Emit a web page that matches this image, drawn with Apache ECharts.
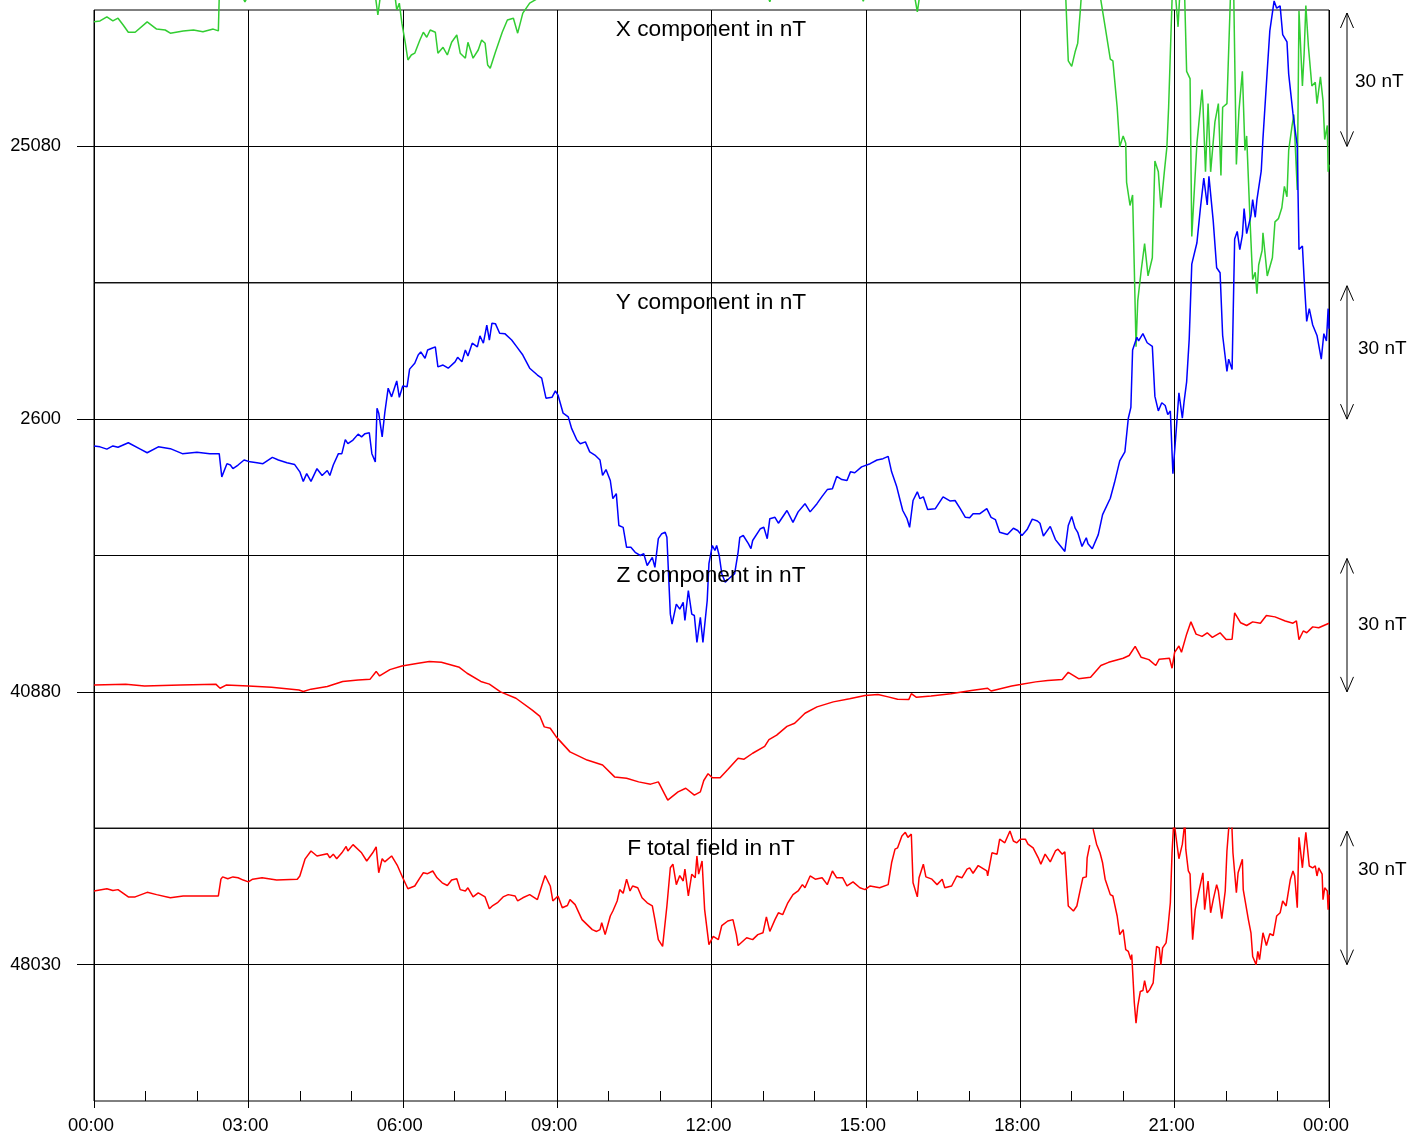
<!DOCTYPE html>
<html>
<head>
<meta charset="utf-8">
<script src="https://cdn.jsdelivr.net/npm/echarts@6/dist/echarts.min.js"></script>
<style>
html,body{margin:0;padding:0;background:#fff;}
#chart{width:1409px;height:1137px;}
</style>
</head>
<body>
<div id="chart"></div>
<script>
// ---------- data (time in minutes of the day, value in nT) ----------
const panelTitles = ['X component in nT', 'Y component in nT', 'Z component in nT', 'F total field in nT'];
const panelMids = [25080, 2600, 40880, 48030];
const halfRange = 30;
const scaleLabel = '30 nT';
const timeTickStep = 180;

const xComponent = [
[0,25107.4],[7,25107.6],[15,25108.5],[22,25107.6],[28,25108.2],[34,25106.7],[40,25105.1],[48,25105.1],
[62,25107.4],[73,25105.8],[83,25105.6],[89,25104.9],[104,25105.4],[116,25105.6],[127,25105.2],[139,25105.8],
[145,25105.4],[147,25120],[159,25117],[170,25114],[176,25111.8],[182,25114],[199,25119],[229,25123],
[264,25126],[298,25124],[316,25119],[326,25116],[331,25108.9],[336,25116],[345,25117],[351,25113],
[353,25110.0],[356,25111.5],[359,25107.1],[363,25102.7],[366,25099.0],[370,25100.1],[374,25100.5],[380,25103.4],
[384,25105.1],[388,25104.0],[392,25105.6],[398,25105.1],[401,25100.5],[407,25101.8],[412,25100.1],[417,25102.9],
[423,25104.5],[427,25100.5],[433,25099.4],[436,25102.9],[442,25099.4],[448,25101.2],[452,25103.4],[456,25102.7],
[459,25097.9],[462,25097.2],[468,25100.7],[476,25105.1],[482,25107.8],[489,25108.2],[494,25104.9],[500,25109.3],
[508,25111.5],[517,25112.5],[532,25118],[567,25124],[613,25130],[683,25128],[753,25120],[784,25114],
[788,25111.8],[793,25115],[823,25121],[870,25122],[891,25115],[897,25111.9],[902,25116],[934,25120],
[954,25116],[960,25109.6],[965,25116],[1010,25123],[1056,25127],[1103,25126],[1126,25120],[1133,25113],
[1136,25098.8],[1140,25097.6],[1144,25100.8],[1147,25102.7],[1150,25109.8],[1153,25118],[1164,25125],[1173,25113.3],
[1179,25106.3],[1185,25099.2],[1188,25098.8],[1193,25088.6],[1196,25079.9],[1200,25082.3],[1203,25080.7],[1204,25072.1],
[1208,25067.0],[1211,25069.3],[1213,25053.1],[1215,25035.9],[1217,25046.0],[1221,25052.7],[1225,25058.6],[1229,25051.5],
[1234,25055.5],[1237,25076.8],[1241,25074.4],[1244,25066.5],[1248,25074.4],[1251,25079.9],[1253,25088.6],[1257,25112.2],
[1259,25118],[1264,25106.3],[1267,25117],[1271,25118],[1274,25096.5],[1278,25094.9],[1280,25060.2],[1286,25080.7],
[1288,25084.6],[1292,25092.5],[1293,25089.4],[1296,25074.4],[1299,25089.4],[1302,25074.4],[1307,25085.4],[1311,25089.4],
[1314,25073.6],[1316,25088.6],[1321,25089.4],[1325,25112.5],[1327,25118],[1329,25112.5],[1332,25076.0],[1335,25087.8],
[1339,25096.5],[1342,25079.1],[1344,25082.3],[1348,25063.4],[1351,25050.7],[1354,25052.3],[1356,25047.6],[1358,25053.9],
[1362,25057.1],[1363,25061.0],[1368,25051.5],[1374,25055.5],[1377,25063.4],[1381,25064.1],[1385,25066.5],[1388,25071.2],
[1391,25068.9],[1393,25079.1],[1397,25084.6],[1399,25087.0],[1403,25070.4],[1405,25109.8],[1409,25093.3],[1411,25100.4],
[1413,25111.0],[1416,25102.0],[1420,25093.3],[1424,25094.1],[1426,25089.4],[1430,25095.3],[1433,25090.1],[1435,25081.5],
[1438,25084.6],[1439,25074.4],[1440,25076.0]
];

const yComponent = [
[0,2594.1],[7,2593.9],[15,2593.4],[22,2594.1],[28,2593.8],[40,2594.8],[54,2593.4],[62,2592.6],
[75,2593.9],[89,2593.5],[103,2592.4],[120,2592.7],[135,2592.4],[146,2592.4],[149,2587.3],[155,2590.2],
[159,2589.9],[162,2589.1],[168,2589.9],[175,2591.0],[182,2590.6],[190,2590.4],[197,2590.2],[208,2591.6],
[215,2591.0],[225,2590.4],[234,2590.0],[240,2588.4],[244,2586.3],[248,2588.0],[253,2586.3],[260,2589.1],
[266,2587.6],[272,2588.7],[275,2587.6],[279,2589.9],[285,2592.4],[289,2592.4],[293,2595.5],[296,2594.6],
[302,2595.4],[308,2596.7],[312,2596.1],[316,2596.8],[321,2597.0],[324,2592.4],[328,2590.6],[330,2602.4],
[332,2601.3],[336,2596.1],[339,2601.3],[343,2606.8],[347,2604.9],[353,2608.4],[356,2604.8],[360,2607.3],
[365,2607.1],[368,2611.0],[374,2612.3],[378,2614.1],[381,2614.8],[386,2613.4],[389,2615.2],[394,2615.6],
[398,2615.9],[401,2611.5],[407,2611.9],[413,2611.2],[421,2612.6],[424,2613.6],[429,2612.6],[433,2615.2],
[436,2613.9],[441,2616.7],[447,2615.9],[450,2618.3],[454,2616.7],[458,2620.7],[461,2617.4],[464,2621.1],
[468,2621.0],[473,2618.9],[479,2618.8],[487,2617.4],[493,2615.9],[500,2614.1],[508,2611.2],[517,2609.7],
[522,2609.0],[527,2604.6],[534,2604.8],[538,2606.2],[541,2605.3],[547,2601.3],[553,2600.5],[557,2597.9],
[563,2595.4],[567,2594.6],[573,2595.0],[578,2592.8],[584,2592.1],[590,2591.0],[593,2587.6],[597,2588.9],
[602,2586.5],[605,2582.5],[609,2583.6],[612,2576.6],[617,2576.2],[621,2571.8],[626,2571.8],[631,2570.7],
[637,2570.0],[641,2570.4],[645,2567.8],[651,2569.6],[654,2567.4],[658,2573.7],[662,2574.8],[666,2575.1],
[668,2574.0],[672,2557.1],[674,2554.9],[679,2559.3],[683,2558.2],[687,2559.7],[689,2555.7],[693,2562.3],
[697,2557.1],[700,2556.8],[703,2550.9],[707,2556.4],[710,2550.9],[715,2560.1],[717,2568.2],[721,2572.2],
[724,2571.1],[726,2572.2],[729,2570.0],[732,2566.0],[736,2564.1],[742,2565.2],[747,2566.0],[751,2570.7],
[753,2574.0],[757,2574.4],[763,2572.6],[766,2571.5],[768,2573.3],[777,2575.9],[781,2576.2],[785,2573.7],
[788,2578.1],[794,2578.4],[798,2577.1],[808,2579.9],[815,2577.3],[821,2579.6],[829,2581.4],[835,2579.6],
[843,2581.4],[849,2583.0],[855,2584.5],[861,2584.7],[866,2587.4],[872,2586.7],[878,2586.5],[882,2588.4],
[887,2588.2],[895,2589.5],[905,2590.2],[913,2591.0],[920,2591.3],[926,2591.8],[930,2588.4],[936,2585.1],
[940,2582.1],[943,2579.9],[948,2578.1],[951,2576.2],[955,2582.1],[960,2584.0],[963,2582.5],[967,2582.9],
[972,2580.1],[981,2580.3],[990,2582.9],[998,2582.0],[1004,2582.1],[1010,2580.3],[1016,2578.4],[1021,2578.3],
[1025,2579.2],[1033,2579.2],[1041,2580.3],[1046,2578.4],[1051,2577.9],[1056,2575.1],[1065,2574.6],[1072,2576.0],
[1077,2575.5],[1082,2574.4],[1088,2575.7],[1094,2578.0],[1100,2577.6],[1103,2577.1],[1107,2574.3],[1115,2576.4],
[1121,2573.5],[1126,2572.3],[1132,2570.9],[1136,2576.6],[1140,2578.6],[1144,2576.0],[1147,2575.1],[1152,2572.0],
[1157,2573.9],[1159,2572.6],[1164,2571.5],[1171,2574.6],[1176,2579.0],[1185,2582.6],[1190,2586.1],[1196,2590.8],
[1202,2592.8],[1206,2600.2],[1209,2602.6],[1211,2615.2],[1216,2618.0],[1218,2617.2],[1223,2618.8],[1228,2616.8],
[1234,2616.0],[1237,2605.0],[1241,2601.8],[1245,2603.6],[1249,2603.0],[1252,2601.0],[1255,2601.8],[1258,2588.0],
[1262,2597.9],[1265,2605.8],[1269,2600.2],[1271,2603.8],[1274,2608.2],[1277,2617.6],[1280,2634.1],[1286,2638.8],
[1290,2646.3],[1292,2646.0],[1294,2653.0],[1298,2647.1],[1300,2653.4],[1305,2643.6],[1309,2633.3],[1313,2632.2],
[1316,2618.4],[1321,2610.5],[1323,2613.2],[1327,2610.9],[1330,2639.6],[1333,2641.3],[1336,2637.3],[1339,2640.4],
[1341,2646.3],[1344,2640.8],[1349,2644.8],[1351,2648.3],[1354,2644.4],[1356,2648.3],[1361,2654.6],[1363,2661.7],
[1368,2676.7],[1371,2685.4],[1376,2692.0],[1379,2690.4],[1383,2690.9],[1386,2684.6],[1391,2683.0],[1393,2675.9],
[1398,2667.2],[1403,2660.1],[1405,2637.3],[1409,2638.1],[1411,2630.9],[1414,2621.5],[1417,2624.3],[1421,2620.7],
[1426,2618.4],[1431,2613.2],[1434,2618.8],[1437,2617.2],[1439,2624.3],[1440,2619.9]
];

const zComponent = [
[0,40881.5],[37,40881.7],[59,40881.3],[101,40881.5],[142,40881.7],[147,40880.8],[154,40881.5],[180,40881.3],
[207,40881.0],[239,40880.4],[244,40880.1],[253,40880.6],[272,40881.2],[290,40882.3],[308,40882.6],[322,40882.8],
[329,40884.5],[333,40883.5],[345,40884.9],[359,40885.7],[378,40886.3],[391,40886.7],[405,40886.5],[426,40885.4],
[435,40884.1],[451,40882.3],[461,40881.7],[474,40880.0],[492,40878.6],[511,40876.0],[520,40874.6],[525,40872.3],
[532,40872.0],[539,40870.1],[555,40866.8],[575,40865.0],[593,40863.9],[607,40861.3],[621,40861.0],[635,40860.2],
[649,40859.7],[658,40860.2],[669,40856.2],[681,40858.0],[690,40858.8],[700,40857.3],[707,40858.0],[711,40860.5],
[716,40862.0],[721,40861.1],[730,40861.1],[739,40862.9],[751,40865.4],[758,40865.2],[768,40866.5],[782,40868.0],
[787,40869.5],[796,40870.5],[808,40872.4],[817,40873.1],[829,40875.3],[843,40876.7],[862,40877.8],[881,40878.5],
[899,40879.2],[914,40879.4],[926,40878.9],[937,40878.4],[950,40878.3],[953,40879.6],[959,40878.8],[976,40879.1],
[999,40879.6],[1023,40880.3],[1042,40880.8],[1046,40880.2],[1070,40881.3],[1080,40881.6],[1098,40882.2],[1112,40882.5],
[1129,40882.7],[1136,40884.3],[1148,40882.9],[1162,40883.2],[1174,40885.8],[1183,40886.5],[1200,40887.4],[1207,40888.0],
[1214,40890.0],[1221,40887.6],[1230,40887.1],[1238,40885.8],[1242,40887.2],[1254,40887.4],[1257,40885.2],[1260,40888.7],
[1265,40890.1],[1268,40888.7],[1274,40892.7],[1279,40895.4],[1285,40892.7],[1292,40892.2],[1298,40893.0],[1304,40892.0],
[1313,40893.0],[1320,40891.5],[1327,40891.6],[1330,40897.4],[1337,40895.2],[1344,40894.6],[1351,40895.4],[1360,40895.1],
[1367,40896.8],[1377,40896.5],[1389,40895.6],[1398,40895.1],[1402,40895.6],[1405,40891.5],[1410,40893.4],[1414,40893.0],
[1421,40894.3],[1428,40894.1],[1434,40894.6],[1440,40895.1]
];

const fTotal = [
[0,48046.2],[15,48046.7],[22,48046.3],[28,48046.5],[40,48044.9],[48,48044.9],[62,48045.9],[73,48045.4],
[89,48044.7],[104,48045.1],[120,48045.1],[145,48045.1],[148,48048.8],[150,48049.3],[156,48048.9],[162,48049.3],
[168,48049.1],[174,48048.6],[180,48048.2],[185,48048.8],[196,48049.1],[213,48048.6],[237,48048.8],[240,48049.5],
[246,48053.2],[253,48055.0],[260,48053.9],[272,48054.4],[275,48053.5],[279,48054.3],[283,48053.3],[289,48054.6],
[294,48056.0],[296,48055.0],[302,48056.4],[312,48054.6],[318,48052.8],[325,48054.6],[329,48055.9],[332,48050.2],
[336,48053.3],[339,48052.6],[347,48053.9],[354,48051.7],[360,48049.1],[366,48046.7],[374,48047.3],[380,48049.1],
[384,48050.2],[389,48050.0],[395,48050.6],[400,48049.1],[406,48048.0],[412,48047.4],[417,48048.6],[423,48048.9],
[427,48046.5],[433,48046.2],[436,48046.9],[442,48044.9],[448,48045.8],[456,48044.9],[461,48042.3],[465,48043.0],
[471,48043.7],[477,48044.9],[483,48045.4],[491,48045.1],[494,48044.0],[500,48044.7],[508,48045.4],[517,48044.3],
[522,48047.3],[526,48049.6],[532,48047.3],[535,48044.0],[541,48045.1],[546,48042.5],[552,48043.0],[555,48044.3],
[561,48043.2],[569,48039.9],[575,48038.8],[581,48037.7],[586,48037.3],[590,48037.7],[592,48039.2],[596,48036.6],
[602,48040.7],[605,48041.8],[610,48044.0],[613,48046.5],[617,48045.7],[621,48048.8],[625,48046.2],[628,48047.3],
[634,48046.9],[639,48044.7],[645,48043.6],[651,48042.9],[654,48039.9],[658,48035.5],[663,48034.0],[668,48042.9],
[672,48051.3],[675,48052.1],[679,48047.6],[683,48049.6],[687,48048.4],[689,48051.0],[693,48045.1],[697,48049.9],
[701,48049.1],[703,48053.9],[705,48049.9],[709,48052.8],[712,48042.1],[717,48034.4],[722,48036.2],[728,48035.5],
[732,48038.6],[739,48039.6],[745,48039.9],[749,48036.6],[751,48034.2],[761,48035.9],[768,48035.5],[774,48036.6],
[780,48037.0],[784,48040.5],[788,48037.3],[794,48039.9],[798,48041.4],[803,48041.0],[809,48043.6],[815,48045.4],
[821,48046.2],[826,48047.6],[829,48046.9],[835,48049.5],[841,48048.8],[849,48049.1],[855,48047.6],[861,48050.6],
[866,48049.1],[873,48049.1],[878,48047.3],[885,48048.2],[893,48046.9],[899,48046.5],[905,48047.3],[916,48046.9],
[926,48047.6],[930,48052.4],[934,48055.4],[937,48055.7],[942,48058.3],[946,48059.1],[949,48058.0],[953,48058.7],
[955,48048.0],[960,48044.9],[962,48049.1],[967,48052.1],[970,48049.3],[977,48048.8],[983,48047.6],[989,48048.8],
[992,48046.9],[1000,48047.3],[1006,48049.5],[1012,48049.1],[1018,48051.0],[1021,48051.3],[1025,48050.1],[1031,48051.8],
[1041,48050.6],[1042,48049.5],[1047,48054.6],[1053,48054.3],[1056,48057.6],[1062,48056.8],[1068,48059.4],[1072,48057.2],
[1076,48056.8],[1080,48057.6],[1086,48057.6],[1089,48056.5],[1095,48055.7],[1101,48053.5],[1104,48052.1],[1109,48054.3],
[1115,48052.6],[1121,48055.0],[1124,48055.4],[1129,48054.3],[1132,48054.8],[1136,48042.9],[1138,48043.2],[1142,48041.8],
[1146,48042.9],[1150,48046.5],[1153,48049.1],[1157,48049.3],[1158,48053.5],[1161,48056.3],[1163,null],[1165,48059.8],
[1169,48056.5],[1173,48054.6],[1176,48052.4],[1179,48048.8],[1181,48048.4],[1185,48045.4],[1188,48045.1],[1193,48040.7],
[1196,48036.6],[1200,48037.7],[1203,48033.3],[1206,48032.9],[1209,48031.1],[1210,48032.2],[1213,48021.6],[1215,48017.1],
[1217,48020.8],[1220,48024.1],[1223,48024.3],[1225,48026.5],[1228,48023.8],[1231,48024.5],[1235,48026.0],[1237,48030.4],
[1239,48034.0],[1242,48033.7],[1244,48030.0],[1246,48033.7],[1250,48034.8],[1252,48037.7],[1255,48043.6],[1257,48054.6],
[1259,48061.5],[1260,48060.5],[1263,48056.1],[1265,48053.3],[1269,48056.5],[1272,48061.5],[1273,48055.4],[1276,48050.6],
[1278,48049.9],[1280,48039.9],[1281,48035.5],[1284,48042.1],[1286,48044.0],[1288,48045.9],[1293,48050.2],[1295,48042.1],
[1299,48048.4],[1302,48041.4],[1305,48044.3],[1309,48047.6],[1311,48046.2],[1315,48040.1],[1319,48046.2],[1321,48055.0],
[1323,48059.8],[1326,48064],[1328,48054.6],[1332,48045.8],[1334,48050.2],[1336,48050.4],[1339,48053.2],[1340,48046.5],
[1342,48046.9],[1346,48039.9],[1349,48037.0],[1351,48031.8],[1355,48030.0],[1357,48032.9],[1359,48031.1],[1362,48035.5],
[1363,48037.0],[1367,48034.2],[1371,48036.8],[1375,48036.4],[1379,48040.7],[1383,48041.4],[1386,48044.0],[1390,48042.9],
[1395,48048.8],[1398,48050.6],[1400,48049.5],[1403,48042.5],[1405,48058.0],[1409,48051.3],[1411,48055.4],[1413,48059.1],
[1417,48051.7],[1421,48051.3],[1424,48051.7],[1426,48049.5],[1428,48051.3],[1432,48049.9],[1433,48044.3],[1435,48046.9],
[1438,48046.2],[1439,48042.1],[1440,48045.4]
];

// ---------- layout / style ----------
const FONT = '"Liberation Sans", Arial, Helvetica, sans-serif';
const PLOT_LEFT = 94, PLOT_RIGHT = 1329, PLOT_TOP = 10, PANEL_H = 272.75;
const seriesData = [xComponent, yComponent, zComponent, fTotal];
const colors = ['#32cd32', '#0000ff', '#ff0000', '#ff0000'];
const clipFlags = [false, false, false, true];

function pad(n){ return (n < 10 ? '0' : '') + n; }
function fmtTime(v){ const h = Math.floor(v / 60) % 24; const m = Math.round(v % 60); return pad(h) + ':' + pad(m); }

const chart = echarts.init(document.getElementById('chart'), null, {renderer: 'canvas'});

const grids = [], xAxes = [], yAxes = [], series = [];
for (let i = 0; i < 4; i++) {
  const last = i === 3;
  grids.push({
    left: PLOT_LEFT, width: PLOT_RIGHT - PLOT_LEFT,
    top: PLOT_TOP + i * PANEL_H, height: PANEL_H,
    show: true, borderColor: '#000', borderWidth: 1, backgroundColor: 'transparent'
  });
  xAxes.push({
    type: 'value', gridIndex: i, position: 'bottom', min: 0, max: 1440, interval: timeTickStep,
    axisLine: {show: false},
    axisTick: {show: last, length: 7, lineStyle: {color: '#000'}},
    minorTick: {show: false},
    axisLabel: {show: last, margin: 16, fontSize: 18.4, color: '#000', fontFamily: FONT,
      padding: [0, 6, 0, 0],
      showMinLabel: true, showMaxLabel: true, formatter: fmtTime},
    splitLine: {show: true, lineStyle: {color: '#000', width: 1}}
  });
  yAxes.push({
    type: 'value', gridIndex: i,
    min: panelMids[i] - halfRange, max: panelMids[i] + halfRange, interval: halfRange,
    axisLine: {show: false},
    axisTick: {show: true, length: 17, customValues: [panelMids[i]], lineStyle: {color: '#000'}},
    axisLabel: {show: true, customValues: [panelMids[i]], margin: 33, fontSize: 18.3, color: '#000', fontFamily: FONT,
      formatter: v => String(v)},
    splitLine: {show: true, lineStyle: {color: '#000', width: 1}}
  });
  series.push({
    type: 'line', xAxisIndex: i, yAxisIndex: i, data: seriesData[i],
    showSymbol: false, symbol: 'none', clip: clipFlags[i], connectNulls: false,
    lineStyle: {color: colors[i], width: 1.5}, itemStyle: {color: colors[i]},
    silent: true, z: 3
  });
}
// extra axis on the bottom edge of the last panel carrying the hourly minor ticks (pointing inward)
xAxes.push({
  type: 'value', gridIndex: 3, position: 'bottom', offset: 0, min: 0, max: 1440, interval: timeTickStep,
  axisLine: {show: false}, axisLabel: {show: false}, splitLine: {show: false},
  axisTick: {show: false, inside: true},
  minorTick: {show: true, splitNumber: 3, length: 10, lineStyle: {color: '#000', width: 1}}
});

chart.setOption({
  animation: false,
  backgroundColor: '#fff',
  grid: grids, xAxis: xAxes, yAxis: yAxes, series: series
});

// annotations: titles and "30 nT" scale arrows, positioned from the axes' scales
const labelOffsets = [4, -2, 1, -27];
const labelX = [1355, 1358, 1358, 1358];
const graphics = [];
const AX = 1347;
for (let i = 0; i < 4; i++) {
  const yTop = chart.convertToPixel({yAxisIndex: i}, panelMids[i] + halfRange);
  const yMid = chart.convertToPixel({yAxisIndex: i}, panelMids[i]);
  graphics.push({type: 'line', silent: true, z: 10, shape: {x1: AX, y1: yTop + 3, x2: AX, y2: yMid}, style: {stroke: '#000', lineWidth: 1}});
  graphics.push({type: 'polyline', silent: true, z: 10, shape: {points: [[AX - 6.5, yTop + 18], [AX, yTop + 3], [AX + 6.5, yTop + 18]]}, style: {stroke: '#000', fill: null, lineWidth: 1}});
  graphics.push({type: 'polyline', silent: true, z: 10, shape: {points: [[AX - 6.5, yMid - 15], [AX, yMid], [AX + 6.5, yMid - 15]]}, style: {stroke: '#000', fill: null, lineWidth: 1}});
  graphics.push({type: 'text', silent: true, z: 10, x: labelX[i], y: (yTop + yMid) / 2 + labelOffsets[i],
    style: {text: scaleLabel, font: '19px ' + FONT, fill: '#000', align: 'left', verticalAlign: 'middle'}});
  graphics.push({type: 'text', silent: true, z: 10, x: 711, y: yTop + 20,
    style: {text: panelTitles[i], font: '22.7px ' + FONT, fill: '#000', align: 'center', verticalAlign: 'middle'}});
}
chart.setOption({graphic: graphics});
</script>
</body>
</html>
